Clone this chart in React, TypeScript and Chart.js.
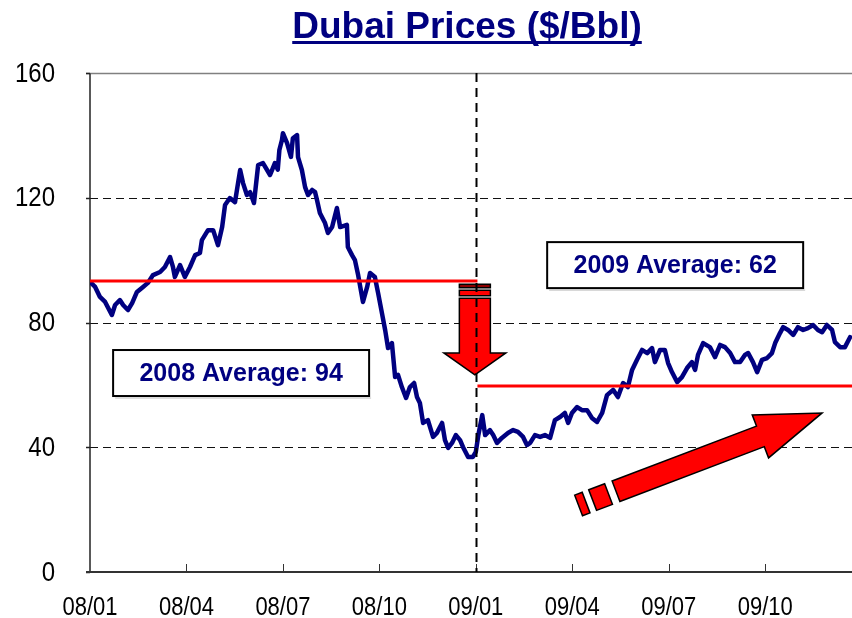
import React, { useEffect, useRef } from "react";
import { Chart, registerables } from "chart.js";

Chart.register(...registerables);

// Months since 2008/01 (x) and Dubai price in $/Bbl (y)
const monthPos = [
  0.03, 0.16, 0.31, 0.47, 0.68, 0.78, 0.93, 1.03, 1.18, 1.31, 1.46, 1.65, 1.8, 1.96, 2.18, 2.33, 2.49, 2.58, 2.64, 2.8,
  2.95, 3.11, 3.27, 3.42, 3.48, 3.67, 3.83, 3.98, 4.11, 4.2, 4.35, 4.51, 4.67, 4.76, 4.88, 4.98, 5.1, 5.23, 5.38, 5.6,
  5.75, 5.84, 5.89, 5.97, 6.0, 6.13, 6.25, 6.31, 6.44, 6.47, 6.59, 6.69, 6.78, 6.91, 7.0, 7.06, 7.15, 7.31, 7.4, 7.53,
  7.68, 7.78, 7.99, 8.02, 8.15, 8.24, 8.34, 8.49, 8.62, 8.71, 8.86, 8.96, 9.08, 9.18, 9.27, 9.39, 9.49, 9.58, 9.7, 9.83,
  9.95, 10.08, 10.17, 10.26, 10.36, 10.51, 10.67, 10.79, 10.95, 11.04, 11.14, 11.26, 11.38, 11.51, 11.6, 11.76, 11.91, 12.0, 12.08, 12.2,
  12.29, 12.44, 12.54, 12.66, 12.81, 13.0, 13.16, 13.31, 13.47, 13.59, 13.69, 13.84, 14.0, 14.15, 14.31, 14.46, 14.62, 14.77, 14.87, 14.99,
  15.15, 15.3, 15.46, 15.61, 15.77, 15.93, 16.08, 16.27, 16.42, 16.58, 16.73, 16.86, 17.01, 17.17, 17.33, 17.48, 17.57, 17.73, 17.88, 17.98,
  18.1, 18.26, 18.41, 18.57, 18.72, 18.82, 18.91, 19.07, 19.28, 19.44, 19.6, 19.75, 19.91, 20.06, 20.22, 20.37, 20.47, 20.62, 20.75, 20.9,
  21.06, 21.21, 21.31, 21.46, 21.56, 21.71, 21.87, 22.02, 22.18, 22.33, 22.49, 22.64, 22.77, 22.92, 23.08, 23.17, 23.33, 23.48, 23.64,
];
const prices = [
  92.7, 91.4, 88.2, 86.6, 82.4, 85.6, 87.2, 85.6, 84.0, 86.2, 89.8, 91.4, 92.7, 95.2, 96.2, 97.8, 101.0, 97.8, 94.6, 98.4,
  94.6, 97.8, 101.6, 102.3, 106.4, 109.6, 109.6, 104.8, 110.6, 117.7, 119.9, 118.6, 128.9, 124.7, 120.9, 121.8, 118.3, 130.5, 131.1, 127.3,
  131.1, 129.0, 135.3, 138.5, 140.7, 137.5, 133.1, 139.1, 140.1, 133.0, 128.9, 123.4, 120.9, 122.5, 121.8, 119.3, 115.1, 111.9, 108.7, 110.6,
  116.7, 110.6, 111.3, 104.2, 101.6, 100.0, 95.2, 86.6, 91.4, 95.9, 94.6, 89.5, 83.0, 77.6, 71.8, 73.4, 62.5, 63.2, 59.3, 55.8,
  59.3, 60.6, 56.1, 54.2, 47.8, 48.7, 43.3, 44.6, 47.8, 42.3, 39.8, 41.4, 43.9, 42.3, 40.1, 36.9, 36.9, 38.5, 44.0, 50.3,
  43.9, 45.5, 43.9, 41.4, 43.0, 44.6, 45.5, 44.9, 43.3, 40.7, 41.4, 43.9, 43.3, 43.9, 43.0, 48.7, 49.7, 51.0, 47.8, 51.0,
  52.9, 51.9, 51.9, 49.4, 48.1, 51.0, 56.7, 58.4, 56.1, 60.6, 59.3, 64.8, 68.0, 71.2, 70.2, 71.8, 67.3, 71.2, 71.2, 67.0,
  64.1, 60.9, 62.5, 65.4, 67.3, 64.8, 69.6, 73.4, 72.1, 68.9, 72.8, 72.1, 70.2, 67.3, 67.3, 69.6, 70.2, 67.3, 64.1, 68.0,
  68.6, 70.2, 73.4, 76.6, 78.5, 77.6, 76.0, 78.5, 77.6, 78.2, 79.2, 77.6, 76.9, 79.2, 77.6, 73.7, 72.1, 72.1, 75.3,
];

const tickMonths = [0, 3, 6, 9, 12, 15, 18, 21];
const tickLabels = ["08/01", "08/04", "08/07", "08/10", "09/01", "09/04", "09/07", "09/10"];
const yTicks = [0, 40, 80, 120, 160];
const gridValues = [40, 80, 120];
const xMax = 23.7;
const splitMonth = 12;

const avg2008 = 93.3;
const avg2009 = 59.6;
const avg2008Span = [0, 12.05];
const avg2009Span = [12.05, xMax];

const titleText = "Dubai Prices ($/Bbl)";
const box2008 = { text: "2008 Average: 94", month: 4.7, value: 63.8 };
const box2009 = { text: "2009 Average: 62", month: 18.2, value: 98.4 };
const downArrow = { month: 11.97, topValue: 92.3, tipValue: 63.2 };
const upArrow = { tailMonth: 16.36, tailValue: 25.9, tipMonth: 22.77, tipValue: 51.0 };

const FONT = '"Liberation Sans", Arial, Helvetica, sans-serif';
const NAVY = "#000080";
const RED = "#FF0000";

function drawBox(ctx: CanvasRenderingContext2D, cx: number, cy: number, text: string) {
  const w = 256, h = 46;
  ctx.save();
  ctx.fillStyle = "#fff";
  ctx.fillRect(cx - w / 2, cy - h / 2, w, h);
  ctx.strokeStyle = "#000";
  ctx.lineWidth = 2;
  ctx.strokeRect(cx - w / 2, cy - h / 2, w, h);
  ctx.strokeStyle = "rgba(0,0,0,0.25)";
  ctx.lineWidth = 1;
  ctx.beginPath();
  ctx.moveTo(cx - w / 2 + 2, cy + h / 2 + 2);
  ctx.lineTo(cx + w / 2 + 2, cy + h / 2 + 2);
  ctx.stroke();
  ctx.fillStyle = NAVY;
  ctx.font = `bold 25px ${FONT}`;
  ctx.textAlign = "center";
  ctx.textBaseline = "middle";
  ctx.fillText(text, cx, cy + 1);
  ctx.restore();
}

function poly(ctx: CanvasRenderingContext2D, pts: number[][], fill: string) {
  ctx.beginPath();
  pts.forEach((p, i) => (i === 0 ? ctx.moveTo(p[0], p[1]) : ctx.lineTo(p[0], p[1])));
  ctx.closePath();
  ctx.fillStyle = fill;
  ctx.fill();
  ctx.strokeStyle = "#000";
  ctx.lineWidth = 1.5;
  ctx.lineJoin = "miter";
  ctx.stroke();
}

function stretchedText(ctx: CanvasRenderingContext2D, text: string, x: number, y: number, sy: number) {
  ctx.save();
  ctx.translate(x, y);
  ctx.scale(1, sy);
  ctx.fillText(text, 0, 0);
  ctx.restore();
}

const decor = {
  id: "decor",
  beforeDatasetsDraw(chart: any) {
    const { ctx, chartArea: a, scales } = chart;
    const x = scales.x, y = scales.y;
    ctx.save();
    // dashed gridlines
    ctx.strokeStyle = "#111";
    ctx.lineWidth = 1;
    ctx.setLineDash([8, 5]);
    gridValues.forEach((v) => {
      const py = Math.round(y.getPixelForValue(v)) + 0.5;
      ctx.beginPath();
      ctx.moveTo(a.left, py);
      ctx.lineTo(a.right, py);
      ctx.stroke();
    });
    ctx.setLineDash([]);
    // top border
    const top = Math.round(y.getPixelForValue(160)) + 0.5;
    ctx.strokeStyle = "#808080";
    ctx.lineWidth = 1.5;
    ctx.beginPath();
    ctx.moveTo(a.left - 4, top);
    ctx.lineTo(a.right, top);
    ctx.stroke();
    // left axis
    ctx.strokeStyle = "#222";
    ctx.lineWidth = 1.5;
    ctx.beginPath();
    ctx.moveTo(a.left, top);
    ctx.lineTo(a.left, a.bottom);
    ctx.stroke();
    yTicks.forEach((v) => {
      const py = Math.round(y.getPixelForValue(v)) + 0.5;
      ctx.beginPath();
      ctx.moveTo(a.left - 4, py);
      ctx.lineTo(a.left, py);
      ctx.stroke();
    });
    // bottom axis with inward ticks
    const bot = Math.round(y.getPixelForValue(0));
    ctx.strokeStyle = "#333";
    ctx.lineWidth = 2;
    ctx.beginPath();
    ctx.moveTo(a.left - 4, bot);
    ctx.lineTo(a.right, bot);
    ctx.stroke();
    ctx.lineWidth = 1;
    tickMonths.forEach((m) => {
      if (m === 0) return;
      const px = Math.round(x.getPixelForValue(m)) + 0.5;
      ctx.beginPath();
      ctx.moveTo(px, bot);
      ctx.lineTo(px, bot - 8);
      ctx.stroke();
    });
    // tick labels
    ctx.fillStyle = "#000";
    ctx.font = `24px ${FONT}`;
    ctx.textAlign = "right";
    ctx.textBaseline = "middle";
    yTicks.forEach((v) => {
      stretchedText(ctx, String(v), a.left - 35, y.getPixelForValue(v) + 1, 1.15);
    });
    ctx.font = `22px ${FONT}`;
    ctx.textAlign = "center";
    tickMonths.forEach((m, i) => {
      stretchedText(ctx, tickLabels[i], x.getPixelForValue(m), bot + 36, 1.15);
    });
    ctx.restore();
  },
  afterDatasetsDraw(chart: any) {
    const { ctx, chartArea: a, scales } = chart;
    const x = scales.x, y = scales.y;
    ctx.save();
    drawBox(ctx, x.getPixelForValue(box2008.month), y.getPixelForValue(box2008.value), box2008.text);
    drawBox(ctx, x.getPixelForValue(box2009.month), y.getPixelForValue(box2009.value), box2009.text);

    // down arrow
    const dx = x.getPixelForValue(downArrow.month);
    const dTop = y.getPixelForValue(downArrow.topValue);
    const dTip = y.getPixelForValue(downArrow.tipValue);
    const sw = 15.5, hw = 31, hl = 22;
    poly(ctx, [[dx - sw, dTop], [dx + sw, dTop], [dx + sw, dTop + 3.5], [dx - sw, dTop + 3.5]], "#8B0000");
    poly(ctx, [[dx - sw, dTop + 6], [dx + sw, dTop + 6], [dx + sw, dTop + 11.5], [dx - sw, dTop + 11.5]], RED);
    poly(ctx, [
      [dx - sw, dTop + 14], [dx + sw, dTop + 14], [dx + sw, dTip - hl], [dx + hw, dTip - hl],
      [dx, dTip], [dx - hw, dTip - hl], [dx - sw, dTip - hl],
    ], RED);

    // diagonal up arrow
    const tx = x.getPixelForValue(upArrow.tailMonth), ty = y.getPixelForValue(upArrow.tailValue);
    const px2 = x.getPixelForValue(upArrow.tipMonth), py2 = y.getPixelForValue(upArrow.tipValue);
    const L = Math.hypot(px2 - tx, py2 - ty);
    const ux = (px2 - tx) / L, uy = (py2 - ty) / L;
    const nx = -uy, ny = ux;
    const P = (al: number, nr: number) => [tx + ux * al + nx * nr, ty + uy * al + ny * nr];
    const shw = 11, hhw = 23, hlen = 66;
    poly(ctx, [P(-40, -shw), P(-32, -shw), P(-32, shw), P(-40, shw)], RED);
    poly(ctx, [P(-25, -shw), P(-8, -shw), P(-8, shw), P(-25, shw)], RED);
    poly(ctx, [
      P(0, -shw), P(L - hlen, -shw), P(L - hlen, -hhw), P(L, 0),
      P(L - hlen, hhw), P(L - hlen, shw), P(0, shw),
    ], RED);

    // vertical dashed divider
    const vx = Math.round(x.getPixelForValue(splitMonth)) + 0.5;
    ctx.strokeStyle = "#000";
    ctx.lineWidth = 2;
    ctx.setLineDash([9, 6]);
    ctx.beginPath();
    ctx.moveTo(vx, a.top);
    ctx.lineTo(vx, a.bottom);
    ctx.stroke();
    ctx.restore();
  },
  afterDraw(chart: any) {
    const { ctx, chartArea: a } = chart;
    ctx.save();
    ctx.font = `bold 37px ${FONT}`;
    ctx.fillStyle = NAVY;
    ctx.textAlign = "center";
    ctx.textBaseline = "alphabetic";
    const cx = (a.left + a.right) / 2 - 4;
    ctx.fillText(titleText, cx, 38);
    const w = ctx.measureText(titleText).width;
    ctx.fillRect(cx - w / 2, 41, w, 3);
    ctx.restore();
  },
};

export default function App() {
  const ref = useRef<HTMLCanvasElement>(null);
  useEffect(() => {
    if (!ref.current) return;
    const chart = new Chart(ref.current, {
      type: "line",
      data: {
        datasets: [
          {
            label: "2008 Average",
            data: avg2008Span.map((m) => ({ x: m, y: avg2008 })),
            borderColor: RED,
            borderWidth: 3,
            pointRadius: 0,
          },
          {
            label: "2009 Average",
            data: avg2009Span.map((m) => ({ x: m, y: avg2009 })),
            borderColor: RED,
            borderWidth: 3,
            pointRadius: 0,
          },
          {
            label: "Dubai",
            data: monthPos.map((m, i) => ({ x: m, y: prices[i] })),
            borderColor: NAVY,
            borderWidth: 4.5,
            pointRadius: 0,
            tension: 0,
            borderJoinStyle: "round",
            borderCapStyle: "round",
          },
        ],
      } as any,
      options: {
        animation: false,
        responsive: false,
        devicePixelRatio: 1,
        layout: { padding: { top: 73, right: 0, left: 90, bottom: 46 } },
        plugins: { legend: { display: false }, tooltip: { enabled: false }, title: { display: false } },
        scales: {
          x: {
            type: "linear",
            display: false,
            min: 0,
            max: xMax,
          },
          y: {
            display: false,
            min: 0,
            max: 160,
          },
        },
      } as any,
      plugins: [decor],
    });
    return () => chart.destroy();
  }, []);
  return (
    <div style={{ position: "absolute", left: 0, top: 0, width: 852, height: 618, background: "#fff" }}>
      <canvas ref={ref} width={852} height={618} />
    </div>
  );
}
